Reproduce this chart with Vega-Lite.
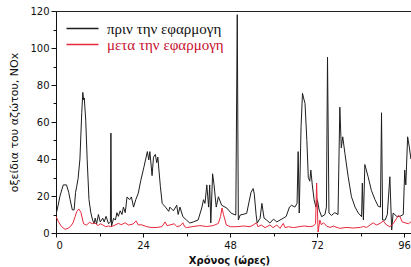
{
  "$schema": "https://vega.github.io/schema/vega-lite/v6.json",
  "width": 355,
  "height": 222,
  "autosize": "none",
  "padding": {"left": 56, "top": 11, "right": 0, "bottom": 34},
  "background": "white",
  "config": {"view": {"stroke": "#222", "strokeWidth": 1}},
  "datasets": {
    "before": [
      {"t":0,"v":10},{"t":0.6,"v":15},{"t":1.1,"v":20},{"t":2.0,"v":26},{"t":2.9,"v":26},{"t":3.5,"v":22},{"t":3.9,"v":18},{"t":4.5,"v":12.5},{"t":5.0,"v":12.5},{"t":5.4,"v":22},{"t":5.7,"v":25},{"t":6.1,"v":29.5},{"t":6.6,"v":40},{"t":7.1,"v":65},{"t":7.4,"v":76},{"t":7.6,"v":72},{"t":7.8,"v":73},{"t":8.2,"v":61},{"t":8.6,"v":39.5},{"t":9.1,"v":18},{"t":9.6,"v":11},
      {"t":10.1,"v":7},{"t":10.5,"v":5},{"t":10.8,"v":8},{"t":11.2,"v":5},{"t":11.7,"v":10},{"t":12.2,"v":6},{"t":12.9,"v":8},{"t":13.3,"v":6},{"t":13.8,"v":9},{"t":14.5,"v":5},{"t":15.0,"v":6},{"t":15.15,"v":54},{"t":15.3,"v":3.5},{"t":15.9,"v":8},{"t":16.4,"v":7},{"t":16.8,"v":11},{"t":17.2,"v":9},{"t":17.7,"v":12},{"t":18.2,"v":10},{"t":18.6,"v":14},{"t":19.1,"v":11},{"t":19.6,"v":19.5},
      {"t":20.3,"v":18},{"t":20.8,"v":19.5},{"t":21.4,"v":14},{"t":22.0,"v":18},{"t":22.7,"v":21.5},{"t":23.4,"v":28.5},{"t":24.3,"v":36},{"t":25.2,"v":44},{"t":25.6,"v":39.5},{"t":25.9,"v":44},{"t":26.5,"v":31},{"t":26.9,"v":41},{"t":27.4,"v":42.5},{"t":27.8,"v":38},{"t":28.1,"v":41},{"t":28.4,"v":34},{"t":28.8,"v":25},{"t":29.3,"v":16},
      {"t":30.2,"v":14},{"t":31.1,"v":11.7},{"t":31.4,"v":14},{"t":32.4,"v":12},{"t":33.3,"v":15},{"t":33.7,"v":10},{"t":34.2,"v":14},{"t":35.0,"v":8.8},{"t":36.0,"v":7},{"t":36.9,"v":5.4},{"t":37.9,"v":6},{"t":39.2,"v":7},{"t":40.2,"v":13.5},{"t":40.7,"v":18},{"t":41.1,"v":16},{"t":41.6,"v":26},{"t":42.1,"v":14},{"t":42.4,"v":26},{"t":42.7,"v":5.4},{"t":43.2,"v":32},{"t":43.6,"v":26},{"t":44.2,"v":14},{"t":44.8,"v":19.6},{"t":45.7,"v":15},{"t":47.1,"v":13.5},{"t":48.4,"v":10.6},{"t":49.6,"v":9.7},
      {"t":50.0,"v":118},{"t":50.3,"v":7},{"t":50.8,"v":9.7},{"t":52.6,"v":10.6},{"t":53.8,"v":22},{"t":54.4,"v":24},{"t":54.7,"v":21},{"t":55.2,"v":10},{"t":55.5,"v":5.4},{"t":56.3,"v":8},{"t":56.8,"v":16},{"t":57.4,"v":8},{"t":58.1,"v":7},{"t":59.0,"v":5.4},
      {"t":60.0,"v":7.5},{"t":60.9,"v":6},{"t":61.8,"v":7},{"t":62.7,"v":8},{"t":63.5,"v":9},{"t":64.4,"v":14},{"t":65.0,"v":15},{"t":65.9,"v":14},{"t":66.5,"v":16},{"t":66.8,"v":44},{"t":67.1,"v":10.8},{"t":67.6,"v":57.5},{"t":68.0,"v":75.5},{"t":68.3,"v":73},{"t":68.7,"v":70},{"t":69.2,"v":50},{"t":69.6,"v":30},
      {"t":70.0,"v":28},{"t":70.3,"v":34},{"t":70.7,"v":26},{"t":71.2,"v":18},{"t":71.7,"v":14},{"t":72.1,"v":18},{"t":72.6,"v":12.4},{"t":73.3,"v":8.8},{"t":74.2,"v":10},{"t":74.6,"v":14},{"t":74.9,"v":95},{"t":75.3,"v":10.8},{"t":76.0,"v":9.5},{"t":76.9,"v":11},{"t":77.8,"v":10},{"t":78.3,"v":68},{"t":78.7,"v":46},{"t":79.1,"v":52},{"t":79.7,"v":43},
      {"t":80.6,"v":30.4},{"t":81.5,"v":19.6},{"t":82.5,"v":14},{"t":83.4,"v":10.8},{"t":84.3,"v":8.8},{"t":84.5,"v":27},{"t":84.8,"v":7},{"t":85.2,"v":37},{"t":86.1,"v":30.4},{"t":87.0,"v":23},{"t":88.0,"v":18},{"t":88.9,"v":14.4},{"t":89.5,"v":14},{"t":89.8,"v":65},
      {"t":90.1,"v":7},{"t":90.8,"v":7},{"t":91.4,"v":10},{"t":92.1,"v":30.4},{"t":92.6,"v":1.6},{"t":93.0,"v":10.8},{"t":94.0,"v":9},{"t":94.9,"v":9},{"t":95.8,"v":10},{"t":96.2,"v":34},{"t":96.5,"v":26},{"t":97.0,"v":52},{"t":97.5,"v":46},{"t":97.9,"v":40}
    ],
    "after": [
      {"t":0,"v":9},{"t":0.7,"v":6},{"t":1.5,"v":3.5},{"t":2.5,"v":2},{"t":3.3,"v":2.5},{"t":4.0,"v":3.5},{"t":4.7,"v":5.5},{"t":5.3,"v":9},{"t":5.7,"v":11.5},{"t":6.3,"v":13},{"t":6.9,"v":11},{"t":7.6,"v":5},{"t":8.4,"v":4.3},{"t":9.3,"v":5.8},
      {"t":10.0,"v":5},{"t":10.7,"v":5.5},{"t":11.6,"v":4},{"t":12.2,"v":5},{"t":12.8,"v":4.5},{"t":13.7,"v":3.4},{"t":14.5,"v":3.8},{"t":15.1,"v":3.4},{"t":16.0,"v":4},{"t":17.2,"v":5.2},{"t":18.0,"v":4.5},{"t":19.1,"v":5.5},
      {"t":20.0,"v":4.3},{"t":21.2,"v":4.8},{"t":22.1,"v":6.5},{"t":22.7,"v":4.3},{"t":23.5,"v":4.5},{"t":25.1,"v":3.4},{"t":26.5,"v":2.9},{"t":27.8,"v":3},{"t":29.2,"v":3.4},
      {"t":30.1,"v":6},{"t":30.6,"v":4},{"t":31.4,"v":4.3},{"t":32.6,"v":5},{"t":33.3,"v":3.5},{"t":34.2,"v":3.8},{"t":35.0,"v":5.5},{"t":35.5,"v":3.4},{"t":36.0,"v":2.9},{"t":37.5,"v":3.4},{"t":39.7,"v":4},
      {"t":41.5,"v":3.5},{"t":43.4,"v":4},{"t":44.8,"v":5.2},{"t":45.4,"v":9},{"t":45.8,"v":13.5},{"t":46.2,"v":10},{"t":47.0,"v":4.3},{"t":48.1,"v":3.4},{"t":49.9,"v":3.4},
      {"t":51.8,"v":3.8},{"t":53.5,"v":3.4},{"t":54.4,"v":4.3},{"t":55.3,"v":5.5},{"t":55.7,"v":3.4},{"t":56.6,"v":4.3},{"t":57.7,"v":2.9},{"t":59.0,"v":4.3},{"t":59.9,"v":2.9},
      {"t":60.9,"v":4.3},{"t":61.8,"v":2.5},{"t":62.7,"v":5.2},{"t":63.2,"v":2.9},{"t":64.1,"v":3.4},{"t":65.5,"v":2.9},{"t":67.0,"v":3.4},{"t":68.5,"v":3.8},
      {"t":70.0,"v":3.4},{"t":71.0,"v":3.8},{"t":71.6,"v":5},{"t":71.9,"v":27},{"t":72.3,"v":0.5},{"t":72.8,"v":7},{"t":73.2,"v":4.5},{"t":73.8,"v":5.5},{"t":74.7,"v":3.7},{"t":75.6,"v":3},{"t":76.5,"v":3.7},{"t":78.3,"v":2.5},
      {"t":80.0,"v":3},{"t":82.0,"v":2.7},{"t":84.0,"v":3},{"t":84.8,"v":3.5},{"t":85.7,"v":3},{"t":86.6,"v":4.3},{"t":87.5,"v":5.5},{"t":88.4,"v":4.3},{"t":89.4,"v":5.2},
      {"t":90.3,"v":6.5},{"t":91.2,"v":4.3},{"t":92.1,"v":3.4},{"t":93.0,"v":5},{"t":94.0,"v":8},{"t":94.5,"v":9.5},{"t":94.9,"v":8.8},{"t":95.5,"v":6},{"t":96.3,"v":5.5},{"t":97.2,"v":5},{"t":97.9,"v":6}
    ]
  },
  "encoding": {
    "x": {
      "field": "t", "type": "quantitative",
      "scale": {"domain": [0, 97.93], "nice": false, "zero": false},
      "axis": {
        "values": [0, 12, 24, 36, 48, 60, 72, 84, 96],
        "labelExpr": "datum.value % 24 === 0 ? datum.label : ''",
        "format": "d",
        "grid": false,
        "tickSize": {"condition": {"test": "datum.value % 24 === 0", "value": 4}, "value": 3},
        "tickColor": "#111", "domainColor": "#111",
        "labelFont": "DejaVu Sans", "labelFontSize": 10, "labelColor": "#111", "labelPadding": 3,
        "title": "Χρόνος (ώρες)", "titleFont": "DejaVu Sans", "titleFontSize": 10, "titleFontWeight": "bold", "titleColor": "#111", "titlePadding": 5, "titleX": 173
      }
    },
    "y": {
      "field": "v", "type": "quantitative",
      "scale": {"domain": [0, 120], "nice": false},
      "axis": {
        "values": [0, 10, 20, 30, 40, 50, 60, 70, 80, 90, 100, 110, 120],
        "labelExpr": "datum.value % 20 === 0 ? datum.label : ''",
        "grid": false,
        "tickSize": {"condition": {"test": "datum.value % 20 === 0", "value": 5}, "value": 3},
        "tickColor": "#111", "domainColor": "#111",
        "labelFont": "DejaVu Sans", "labelFontSize": 10, "labelColor": "#111", "labelPadding": 2,
        "title": "οξείδια του αζώτου, NOx", "titleFont": "DejaVu Sans", "titleFontSize": 11, "titleFontWeight": "normal", "titleColor": "#111", "titlePadding": 10
      }
    }
  },
  "layer": [
    {
      "data": {"name": "before"},
      "mark": {"type": "line", "strokeWidth": 1, "clip": true, "interpolate": "linear"},
      "encoding": {
        "color": {
          "datum": "πριν την εφαρμογη",
          "scale": {"domain": ["πριν την εφαρμογη", "μετα την εφαρμογη"], "range": ["#1e1e1e", "#e8283c"]},
          "legend": {
            "orient": "none", "legendX": 19, "legendY": 10, "title": null,
            "symbolType": "M-4,0H4", "symbolSize": 64, "symbolStrokeWidth": 1.5,
            "labelFont": "Liberation Serif", "labelFontSize": 15, "labelOffset": 17,
            "rowPadding": -4, "padding": 0, "symbolOffset": 0,
            "encode": {"labels": {"update": {"fill": {"signal": "datum.value === 'μετα την εφαρμογη' ? '#c8102e' : '#111111'"}}}}
          }
        }
      }
    },
    {
      "data": {"name": "after"},
      "mark": {"type": "line", "strokeWidth": 1, "clip": true, "interpolate": "linear"},
      "encoding": {"color": {"datum": "μετα την εφαρμογη"}}
    }
  ]
}
